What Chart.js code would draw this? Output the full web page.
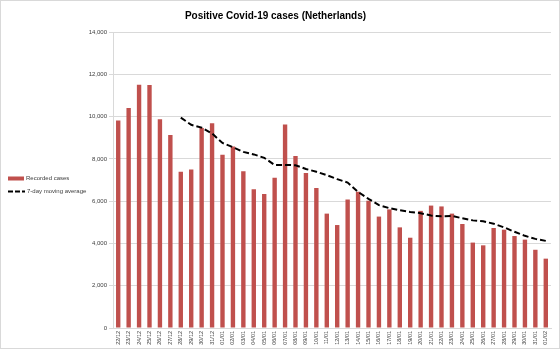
<!DOCTYPE html>
<html>
<head>
<meta charset="utf-8">
<script src="https://cdn.jsdelivr.net/npm/chart.js@4.4.1/dist/chart.umd.min.js"></script>
<style>
  html, body { margin: 0; padding: 0; background: #ffffff; }
  #wrap { width: 560px; height: 349px; position: relative; }
</style>
</head>
<body>
<div id="wrap"><canvas id="c" width="560" height="349"></canvas></div>
<script>
const titleText = 'Positive Covid-19 cases (Netherlands)';
const categories = ['22/12','23/12','24/12','25/12','26/12','27/12','28/12','29/12','30/12','31/12',
  '01/01','02/01','03/01','04/01','05/01','06/01','07/01','08/01','09/01','10/01',
  '11/01','12/01','13/01','14/01','15/01','16/01','17/01','18/01','19/01','20/01',
  '21/01','22/01','23/01','24/01','25/01','26/01','27/01','28/01','29/01','30/01','31/01',
  '01/02'];
const recordedCases = [9820,10410,11510,11490,9870,9130,7390,7500,9460,9680,
  8200,8590,7410,6560,6340,7110,9630,8140,7330,6620,
  5410,4870,6080,6450,6020,5270,5610,4760,4270,5540,
  5790,5750,5410,4920,4040,3910,4730,4650,4350,4180,3700,
  3280];
const movingAverage = [null,null,null,null,null,null,9950,9610,9480,9200,
  8750,8550,8330,8210,8050,7710,7710,7700,7520,7390,
  7230,7040,6880,6440,6110,5810,5670,5570,5490,5430,
  5320,5280,5300,5190,5090,5045,4934,4760,4550,4360,4215,
  4120];
const seriesNames = ['Recorded cases', '7-day moving average'];
const yTicks = [0,2000,4000,6000,8000,10000,12000,14000];

const BAR_COLOR = '#c0504d';
const TEXT_COLOR = '#404040';
const GRID_COLOR = '#d9d9d9';
const FONT = '"Liberation Sans", Arial, sans-serif';

const frameAndLegend = {
  id: 'frameAndLegend',
  afterDraw(chart) {
    const ctx = chart.ctx;
    ctx.save();
    ctx.strokeStyle = GRID_COLOR;
    ctx.lineWidth = 1;
    ctx.strokeRect(0.5, 0.5, 559, 348);
    // legend
    ctx.font = '6px ' + FONT;
    ctx.textBaseline = 'middle';
    ctx.textAlign = 'left';
    const ds = chart.data.datasets;
    const y0 = 178.5;
    ctx.fillStyle = ds[0].backgroundColor;
    ctx.fillRect(8, y0 - 2, 16, 4);
    ctx.fillStyle = TEXT_COLOR;
    ctx.fillText(ds[0].label, 26, y0);
    const y1 = 191.5;
    ctx.strokeStyle = ds[1].borderColor;
    ctx.lineWidth = 2;
    ctx.setLineDash([5, 2]);
    ctx.beginPath();
    ctx.moveTo(8, y1);
    ctx.lineTo(25, y1);
    ctx.stroke();
    ctx.setLineDash([]);
    ctx.fillText(ds[1].label, 27, y1);
    ctx.restore();
  }
};

new Chart(document.getElementById('c'), {
  data: {
    labels: categories,
    datasets: [
      {
        type: 'bar',
        label: seriesNames[0],
        data: recordedCases,
        backgroundColor: BAR_COLOR,
        borderWidth: 0,
        barPercentage: 0.42,
        categoryPercentage: 1.0,
        order: 1
      },
      {
        type: 'line',
        label: seriesNames[1],
        data: movingAverage,
        borderColor: '#000000',
        borderWidth: 2,
        borderDash: [6, 3],
        pointRadius: 0,
        tension: 0,
        fill: false,
        order: 0
      }
    ]
  },
  options: {
    responsive: false,
    animation: false,
    events: [],
    layout: { padding: { left: 0, right: 9, top: 0, bottom: 1 } },
    plugins: {
      legend: { display: false },
      tooltip: { enabled: false },
      title: {
        display: true,
        text: titleText,
        color: '#000000',
        font: { family: FONT, size: 10, weight: 'bold', lineHeight: 1.2 },
        padding: { top: 10, bottom: 10 }
      }
    },
    scales: {
      x: {
        offset: true,
        grid: { display: false, drawTicks: false },
        border: { display: true, color: GRID_COLOR },
        ticks: {
          color: TEXT_COLOR,
          font: { family: FONT, size: 5.5 },
          minRotation: 90,
          maxRotation: 90,
          autoSkip: false,
          padding: 3
        },
        afterFit(scale) { scale.height = 20; }
      },
      y: {
        min: 0,
        max: 14000,
        afterBuildTicks(scale) { scale.ticks = yTicks.map(v => ({ value: v })); },
        grid: { color: GRID_COLOR, lineWidth: 1, tickLength: 4, drawTicks: true },
        border: { display: true, color: GRID_COLOR },
        ticks: {
          color: TEXT_COLOR,
          font: { family: FONT, size: 6 },
          padding: 2,
          callback: (v) => Number(v).toLocaleString('en-US')
        },
        afterFit(scale) { scale.width = 113; }
      }
    }
  },
  plugins: [frameAndLegend]
});
</script>
</body>
</html>
